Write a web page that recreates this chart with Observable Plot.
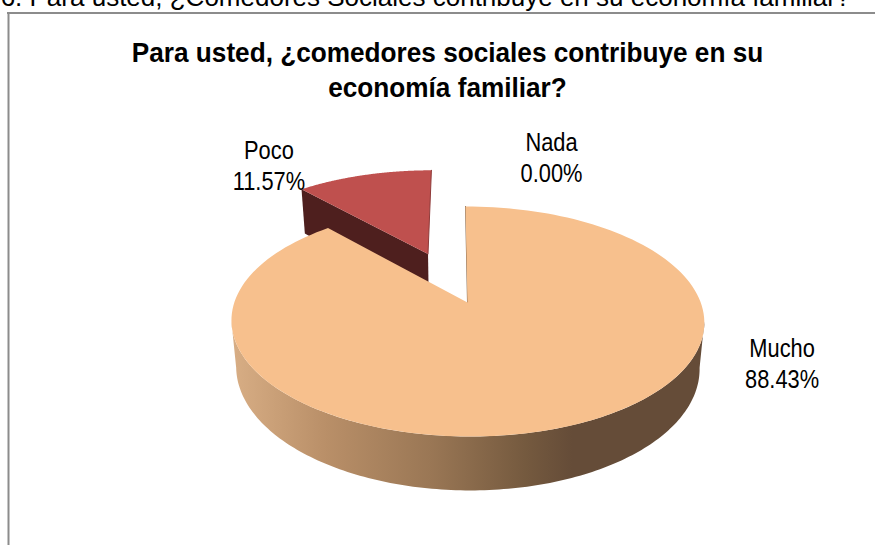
<!DOCTYPE html>
<html>
<head>
<meta charset="utf-8">
<script src="https://cdn.jsdelivr.net/npm/d3@7"></script>
<script src="https://cdn.jsdelivr.net/npm/@observablehq/plot@0.6"></script>
<style>html,body{margin:0;padding:0;background:#fff;overflow:hidden}</style>
</head>
<body>
<div id="chart"></div>
<script>
const categories = ["Mucho", "Poco", "Nada"];
const percentages = [88.43, 11.57, 0.00];
const questionLine = "6. Para usted, ¿Comedores Sociales contribuye en su economía familiar?";
const titleLines = ["Para usted, ¿comedores sociales contribuye en su", "economía familiar?"];

const W = 875, H = 545;
const font = "Liberation Sans, Arial, sans-serif";

// perspective projection of the pie's unit circle onto the page
const view = {x0: 467, y0: 302, w: 233.2, shear: -2.3, h: 111.9, c: 0.165, depth: 45, narrow: 0.98};
function project(u, v, depth = 0) {
  const d = 1 + view.c * v;
  const x = view.x0 + (view.w * u + view.shear * v) / d;
  const y = view.y0 - view.h * v / d + depth / d;
  return depth ? {x: view.x0 + (x - view.x0) * view.narrow, y} : {x, y};
}
const slices = d3.pie().sort(null)(percentages);
const explode = {Mucho: 0, Poco: 0.5, Nada: 0};
const rim = (a, off, depth) => project(off.u + Math.sin(a), off.v + Math.cos(a), depth);
function offset(s, name) {
  const m = (s.startAngle + s.endAngle) / 2, e = explode[name];
  return {u: e * Math.sin(m), v: e * Math.cos(m)};
}
const sweep = (a0, a1, n = 160) => d3.range(n + 1).map(i => a0 + (a1 - a0) * i / n);
function wedge(s, name, depth = 0) {
  const off = offset(s, name);
  return [project(off.u, off.v, depth), ...sweep(s.startAngle, s.endAngle).map(a => rim(a, off, depth))];
}
const [sMucho, sPoco] = slices;
const offPoco = offset(sPoco, "Poco"), offMucho = offset(sMucho, "Mucho");

const muchoTop = wedge(sMucho, "Mucho");
const pocoTop = wedge(sPoco, "Poco");
// front wall of the big slice, between the two silhouette tangents
const tangent = Math.acos(-view.c);
const frontArc = sweep(tangent, 2 * Math.PI - tangent);
const muchoWall = [...frontArc.map(a => rim(a, offMucho, 0)), ...frontArc.slice().reverse().map(a => rim(a, offMucho, view.depth))];
// cut face of the small slice, running from its outer corner to its apex
const pocoDepth = 53;
const pocoCorner = rim(sPoco.startAngle, offPoco, 0);
const pocoApex = project(offPoco.u, offPoco.v, 0);
const pocoFace = [pocoCorner, pocoApex, project(offPoco.u, offPoco.v, pocoDepth), rim(sPoco.startAngle, offPoco, pocoDepth)];
const pocoEdge = [pocoApex, rim(sPoco.endAngle, offPoco, 0)];
const muchoEdge = [project(0, 0), rim(0, offMucho, 0)];

const labelShift = [{dx: 214, dy: -62}, {dx: -95, dy: -9}, {dx: 86, dy: -48}];
const labelGap = 31;
const labels = categories.flatMap((c, i) => {
  const s = slices[i], m = (s.startAngle + s.endAngle) / 2, p = rim(m, offset(s, c), 0);
  return [c, `${percentages[i].toFixed(2)}%`].map((text, line) => ({
    text, ...p, dx: labelShift[i].dx, dy: labelShift[i].dy + (line - 0.5) * labelGap
  }));
});

const gradient = () => {
  const defs = d3.create("svg:defs");
  const g = defs.append("linearGradient").attr("id", "wall");
  [[0, "#d8ae85"], [0.2, "#b98f68"], [0.42, "#9a7755"], [0.62, "#755a3f"], [0.72, "#654c38"], [1, "#654c38"]]
    .forEach(([o, c]) => g.append("stop").attr("offset", o).attr("stop-color", c));
  return defs.node();
};
const poly = (data, fill) => Plot.line(data, {x: "x", y: "y", fill, stroke: "none", curve: "linear"});

const plot = Plot.plot({
  width: W, height: H,
  marginTop: 0, marginRight: 0, marginBottom: 0, marginLeft: 0,
  x: {domain: [0, W], range: [0, W], axis: null},
  y: {domain: [0, H], range: [0, H], axis: null},
  marks: [
    gradient,
    Plot.ruleX([8], {y1: 12.5, y2: H, stroke: "#8c8c8c", strokeWidth: 2}),
    Plot.ruleY([12.5], {x1: 7, x2: W, stroke: "#8c8c8c", strokeWidth: 2}),
    poly(pocoFace, "#4e1f1e"),
    poly(pocoTop, "#bf504e"),
    Plot.line(pocoEdge, {x: "x", y: "y", stroke: "#8f3b3a", strokeWidth: 1}),
    poly(muchoWall, "url(#wall)"),
    Plot.line(muchoEdge, {x: "x", y: "y", stroke: "#86694f", strokeWidth: 1}),
    poly(muchoTop, "#f7c08d"),
    ...labels.map(d => Plot.text([d], {
      x: "x", y: "y", text: "text", dx: d.dx, dy: d.dy,
      fontSize: 25, fontFamily: font, fill: "#000", stroke: "none", className: "squeeze-label"
    })),
    Plot.text([questionLine], {
      x: () => 425, y: () => 5, text: d => d, fontSize: 26, fontFamily: font, fill: "#000",
      lineAnchor: "bottom"
    }),
    Plot.text(titleLines, {
      x: () => 447, y: (d, i) => 53 + i * 35, text: d => d, fontSize: 28, fontWeight: "bold", fontFamily: font, fill: "#000",
      className: "squeeze-title"
    })
  ]
});
document.getElementById("chart").appendChild(plot);
const squeeze = (selector, factor) => plot.querySelectorAll(selector + " text").forEach(t => {
  t.setAttribute("textLength", t.getComputedTextLength() * factor);
  t.setAttribute("lengthAdjust", "spacingAndGlyphs");
});
squeeze(".squeeze-label", 0.873);
squeeze(".squeeze-title", 0.935);
</script>
</body>
</html>
